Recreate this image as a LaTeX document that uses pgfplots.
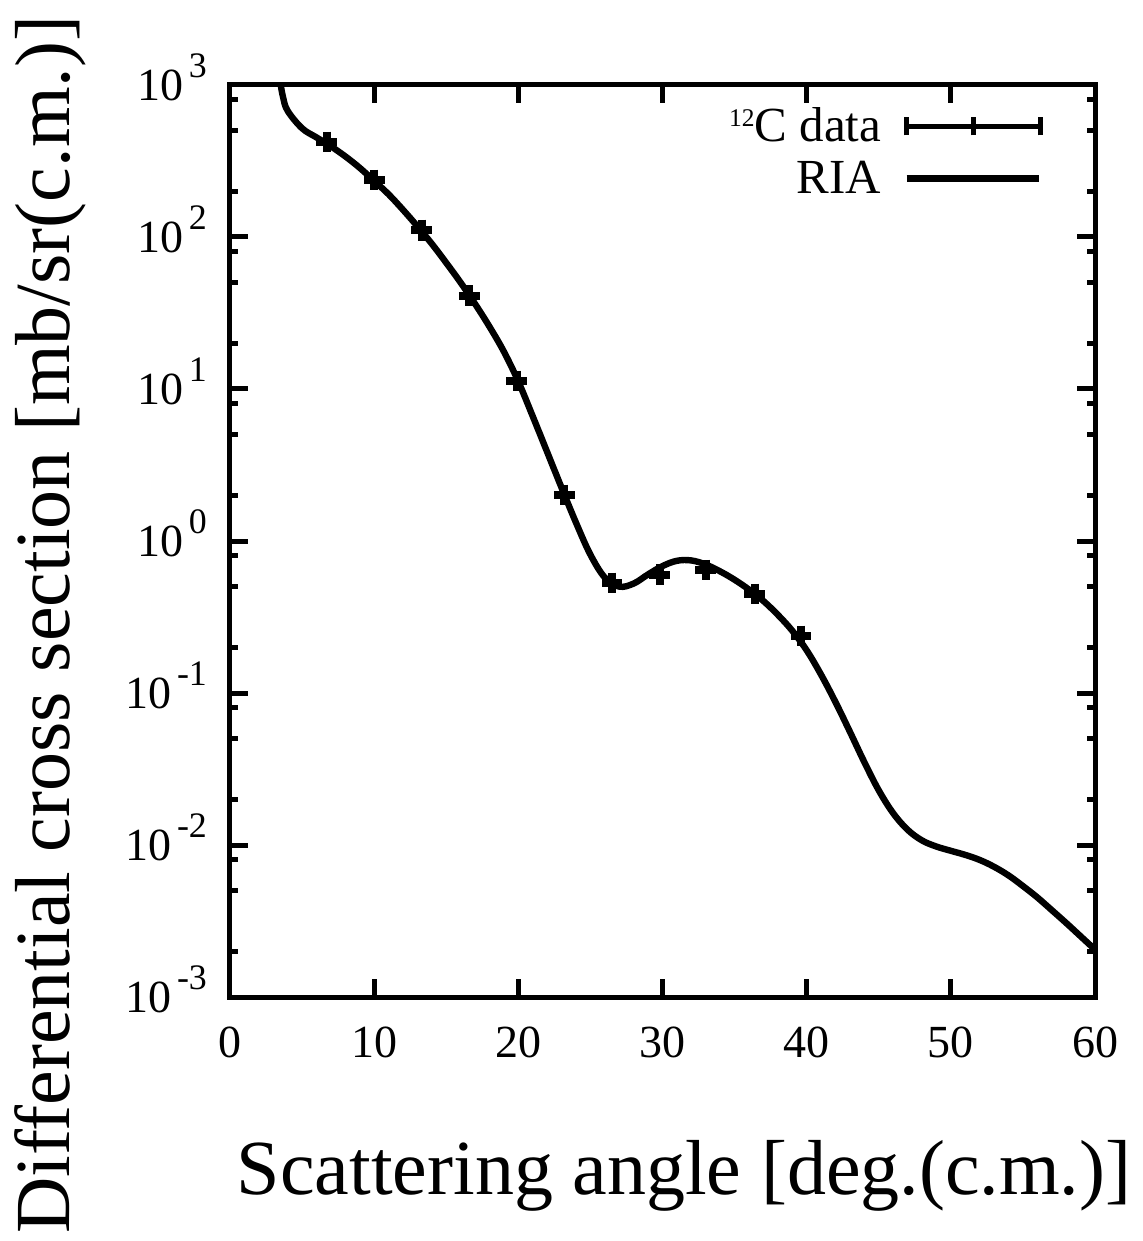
\documentclass[border=0pt]{standalone}
\usepackage{fontspec}
\setmainfont{Liberation Serif}
\usepackage{graphicx}
\usepackage{pgfplots}
\pgfplotsset{compat=1.18}
\newcommand\ex[1]{10\hspace{0.12em}\smash{\raisebox{0.48em}{\scalebox{0.78}{#1}}}}

\pgfplotstableread{
x y
6.7 422
10.0 237
13.3 111
16.6 41
19.9 11.3
23.2 2.01
26.5 0.53
29.8 0.60
33.0 0.644
36.4 0.448
39.6 0.237
}\datatable

\pgfplotstableread{
x y
3.3 1413
3.47 1070
3.68 832
4 676
5 519
6 452
7 395
8 339
9 285
10 234
11 191
12 151
13 117.5
14 90.2
15 67.6
16 50.1
17 36.3
18 25.7
19 17.6
20 11.2
21 6.61
22 3.85
23 2.24
24 1.32
25 0.813
26 0.575
27 0.501
28 0.525
29 0.603
30 0.684
31 0.741
32 0.745
33 0.700
34 0.631
35 0.556
36 0.479
37 0.403
38 0.327
39 0.257
40 0.191
41 0.132
42 0.0871
43 0.0556
44 0.0351
45 0.0229
46 0.0162
47 0.0126
48 0.01072
49 0.00977
50 0.00916
51 0.00861
52 0.00798
53 0.00719
54 0.00631
55 0.00537
56 0.00452
57 0.00373
58 0.00307
59 0.00251
60 0.00205
}\riatable

\begin{document}
\begin{tikzpicture}
\begin{axis}[
  name=ax,
  scale only axis,
  width=432.5pt, height=456pt,
  xmin=0, xmax=60,
  ymode=log, ymin=1e-3, ymax=1e3,
  axis line style={line width=2.5pt},
  tick style={line width=2.5pt, black},
  major tick length=9pt, minor tick length=4pt,
  tick align=inside,
  xtick={0,10,20,30,40,50,60},
  xticklabels={0,10,20,30,40,50,60},
  ytick={1e-3,1e-2,1e-1,1,1e1,1e2,1e3},
  yticklabels={\ex{-3},\ex{-2},\ex{-1},\ex{0},\ex{1},\ex{2},\ex{3}},
  minor ytick={2e-3,5e-3,8e-3,2e-2,5e-2,8e-2,2e-1,5e-1,8e-1,2,5,8,20,50,80,200,500,800},
  every tick label/.append style={font=\fontsize{23}{27}\selectfont},
  xticklabel style={yshift=-11.5pt},
  yticklabel style={xshift=-8pt},
  xlabel={Scattering angle [deg.(c.m.)]},
  ylabel={Differential cross section [mb/sr(c.m.)]},
  label style={font=\fontsize{39}{46}\selectfont, inner sep=0pt},
  xlabel style={at={(axis description cs:0.525,-0.217)}, anchor=base},
  ylabel style={at={(axis description cs:-0.208,0.408)}, anchor=center, rotate=0},
  legend plot pos=right,
  legend cell align=right,
  legend style={draw=none, fill=none, at={(axis description cs:0.947,0.984)}, anchor=north east,
    font=\fontsize{24.5}{28}\selectfont, row sep=4pt,
    /tikz/every odd column/.append style={column sep=9pt}},
]
\addplot[only marks, mark=+, mark size=5.2pt, line width=4pt, black,
  legend image code/.code={
    \draw[line width=2.2pt] (0pt,0pt) -- (67pt,0pt);
    \draw[line width=2.2pt] (0pt,-4.5pt) -- (0pt,4.5pt);
    \draw[line width=2.2pt] (67pt,-4.5pt) -- (67pt,4.5pt);
    \draw[line width=2.2pt] (33.5pt,-4.5pt) -- (33.5pt,4.5pt);
  }] table[x=x,y=y] {\datatable};
\addlegendentry{\raisebox{0.32em}{\scalebox{0.52}{12}}C data}
\addplot[black, line width=3.2pt, smooth, tension=0.6,
  legend image code/.code={
    \draw[line width=3.4pt] (0pt,0pt) -- (66pt,0pt);
  }] table[x=x,y=y] {\riatable};
\addlegendentry{RIA}
\end{axis}
\path (ax.south west) ++(-115pt,498.5pt) rectangle ++(571.5pt,-620.5pt);
\end{tikzpicture}
\end{document}
